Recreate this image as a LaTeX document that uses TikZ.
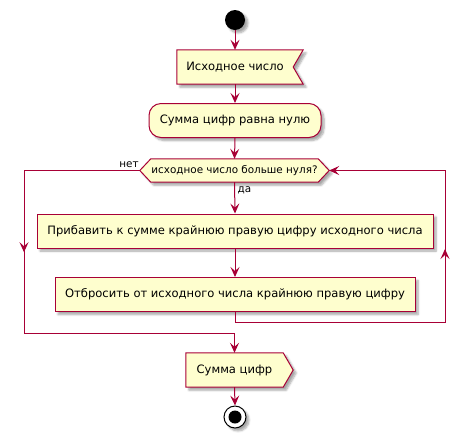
\documentclass[tikz,border=0pt]{standalone}
\usepackage{fontspec}
\setmainfont{DejaVu Sans}
\usetikzlibrary{arrows.meta,decorations.markings,shadows.blur,backgrounds}
\definecolor{bord}{HTML}{A80036}
\definecolor{boxfill}{HTML}{FEFECE}
\begin{document}
\begin{tikzpicture}[x=1pt,y=-1pt,
  font=\fontsize{11.55}{14}\selectfont,
  smallfont/.style={font=\fontsize{10.4}{12.5}\selectfont},
  shd/.style={blur shadow={shadow xshift=3pt,shadow yshift=-3pt,shadow blur steps=6,shadow opacity=35,shadow blur radius=2pt}},
  boxshape/.style={draw=bord,fill=boxfill,line width=1pt,shd},
  txt/.style={draw=none,inner sep=0pt},
  actbox/.style={boxshape,inner sep=0pt,minimum height=34pt},
  tipA/.tip={Stealth[length=10pt,width=9pt,inset=4pt]},
  conn/.style={draw=bord,line width=1pt},
  arr/.style={conn,-tipA},
  midarrow/.style={postaction={decorate,decoration={markings,mark=at position #1 with {\arrow{tipA}}}}}
]
\useasboundingbox (0,0) rectangle (470,437);

% start
\node[circle,fill=black,minimum size=20pt,inner sep=0pt,shd] (start) at (235,20) {};

% input
\node[txt,minimum width=116pt,minimum height=34pt] (in) at (235,67) {Исходное число};
% action 0
\node[actbox,rounded corners=12pt,minimum width=172pt] (act0) at (235,120.5) {Сумма цифр равна нулю};
% decision
\node[txt,minimum width=167pt,minimum height=23pt,smallfont] (dec) at (234.5,170.5) {исходное число больше нуля?};
\coordinate (decL) at ([xshift=-11pt]dec.west);
\coordinate (decR) at ([xshift=11pt]dec.east);
% actions in loop
\node[actbox,minimum width=396pt] (act1) at (235,231) {Прибавить к сумме крайнюю правую цифру исходного числа};
\node[actbox,minimum width=360pt] (act2) at (235,294.5) {Отбросить от исходного числа крайнюю правую цифру};
% output
\node[txt,minimum width=97pt,minimum height=34pt] (out) at (234.5,370) {Сумма цифр};
% end
\node[circle,draw=black,line width=1pt,fill=white,minimum size=22pt,inner sep=0pt,shd] (end) at (235,417) {};
\node[circle,fill=black,minimum size=13pt,inner sep=0pt] (endin) at (end) {};

\begin{scope}[on background layer]
  \path[boxshape] (in.north west) -- ([xshift=10pt]in.north east) -- (in.east) -- ([xshift=10pt]in.south east) -- (in.south west) -- cycle;
  \path[boxshape] (dec.north west) -- (dec.north east) -- (decR) -- (dec.south east) -- (dec.south west) -- (decL) -- cycle;
  \path[boxshape] (out.north west) -- (out.north east) -- ([xshift=10pt]out.east) -- (out.south east) -- (out.south west) -- cycle;
\end{scope}

% loop coordinates
\coordinate (l1) at (24,170.5);
\coordinate (l2) at (24,333);
\coordinate (r1) at (445,322);
\coordinate (r2) at (445,170.5);

% connectors
\draw[arr] (start.south) -- (in.north);
\draw[arr] (in.south) -- (act0.north);
\draw[arr] (act0.south) -- (dec.north);
\draw[arr] (dec.south) -- (act1.north);
\node[anchor=north west,inner sep=0pt,smallfont] (yes) at ([xshift=3pt,yshift=-4pt]dec.south) {да};
\draw[arr] (act1.south) -- (act2.north);
\draw[arr,midarrow=197.5pt] (decL) -- (l1) -- (l2) -| (out.north);
\node[anchor=base east,inner sep=0pt,smallfont] (no) at ([xshift=-1pt,yshift=3pt]decL) {нет};
\draw[arr,midarrow=293pt] (act2.south) |- (r1) -- (r2) -- (decR);
\draw[arr] (out.south) -- (end.north);
\end{tikzpicture}
\end{document}
